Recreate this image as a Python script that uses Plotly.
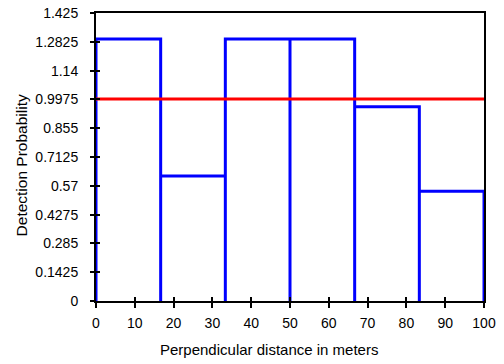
import plotly.graph_objects as go

bin_edges = [0, 16.6667, 33.3333, 50, 66.6667, 83.3333, 100]
bar_heights = [1.296, 0.618, 1.296, 1.296, 0.961, 0.543]
ref_level = 1.0
y_tickvals = [0, 0.1425, 0.285, 0.4275, 0.57, 0.7125, 0.855, 0.9975, 1.14, 1.2825, 1.425]
y_ticktext = ["0", "0.1425", "0.285", "0.4275", "0.57", "0.7125", "0.855", "0.9975", "1.14", "1.2825", "1.425"]
x_tickvals = [0, 10, 20, 30, 40, 50, 60, 70, 80, 90, 100]
x_title = "Perpendicular distance in meters"
y_title = "Detection Probability"

# outline path of the histogram bars (each bar: up, across, down), no bottom edges
path_x, path_y = [], []
for i, h in enumerate(bar_heights):
    x0, x1 = bin_edges[i], bin_edges[i + 1]
    path_x += [x0, x0, x1, x1]
    path_y += [0, h, h, 0]

FONT = "Liberation Sans, Arial, sans-serif"
fig = go.Figure()
fig.add_trace(go.Scatter(x=path_x, y=path_y, mode="lines",
                         line=dict(color="#0000ff", width=3), showlegend=False,
                         hoverinfo="skip", cliponaxis=False))
fig.add_trace(go.Scatter(x=[bin_edges[0], bin_edges[-1]], y=[ref_level, ref_level], mode="lines",
                         line=dict(color="#ff0000", width=3), showlegend=False, cliponaxis=False))

common = dict(showgrid=False, zeroline=False, automargin=False)
fig.update_layout(
    width=504, height=364,
    margin=dict(l=96, r=20, t=13, b=63, autoexpand=False),
    paper_bgcolor="white", plot_bgcolor="white",
    font=dict(family=FONT, size=14, color="#000000"),
    xaxis=dict(range=[0, 100], tickvals=x_tickvals, ticks="outside", ticklen=5, tickwidth=2,
               tickcolor="black", showline=True, linecolor="black", linewidth=2, mirror=True,
               layer="above traces", ticklabelstandoff=3, tickfont=dict(size=14), **common),
    yaxis=dict(range=[0, 1.425], tickvals=y_tickvals, ticktext=y_ticktext, ticks="outside", ticklen=13,
               tickwidth=1, tickcolor="rgba(0,0,0,0)", showline=True, linecolor="black", linewidth=2,
               mirror=True, layer="above traces", tickfont=dict(size=14), **common),
    xaxis2=dict(range=[0, 100], tickvals=x_tickvals, ticks="inside", ticklen=4, tickwidth=2,
                tickcolor="black", showticklabels=False, overlaying="x", side="bottom", anchor="y",
                showline=False, **common),
    yaxis2=dict(range=[0, 1.425], tickvals=y_tickvals, ticks="inside", ticklen=4, tickwidth=2,
                tickcolor="black", showticklabels=False, overlaying="y", side="left", anchor="x",
                showline=False, **common),
    yaxis3=dict(range=[0, 1.425], tickvals=y_tickvals, ticks="outside", ticklen=5, tickwidth=2,
                tickcolor="black", showticklabels=False, overlaying="y", side="left", anchor="x",
                showline=False, **common),
)
fig.add_trace(go.Scatter(x=[None], y=[None], xaxis="x2", yaxis="y2", showlegend=False))
fig.add_trace(go.Scatter(x=[None], y=[None], xaxis="x", yaxis="y3", showlegend=False))

fig.add_annotation(text=x_title, xref="paper", yref="paper", x=0.4446, y=-0.167,
                   xanchor="center", yanchor="middle", showarrow=False, font=dict(size=15))
fig.add_annotation(text=y_title, xref="paper", yref="paper", x=-0.192, y=0.469, textangle=-90,
                   xanchor="center", yanchor="middle", showarrow=False, font=dict(size=15.5))
fig.write_html("out.html")
